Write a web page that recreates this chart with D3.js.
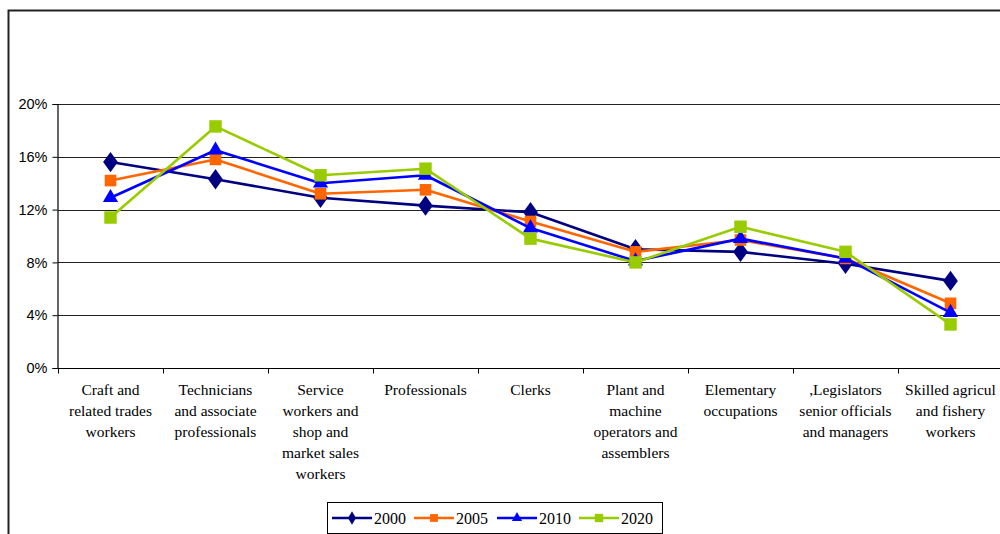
<!DOCTYPE html>
<html>
<head>
<meta charset="utf-8">
<script src="https://cdn.jsdelivr.net/npm/d3@7"></script>
<style>
  html, body { margin: 0; padding: 0; background: #fff; }
  svg { display: block; }
  .serif { font-family: "Liberation Serif", "Times New Roman", serif; }
  .sans { font-family: "Liberation Sans", Arial, Helvetica, sans-serif; }
</style>
</head>
<body>
<svg id="chart" width="1000" height="534"></svg>
<script>
// Occupational groups along the x axis (each entry is a list of label lines)
const categories = [
  ["Craft and", "related trades", "workers"],
  ["Technicians", "and associate", "professionals"],
  ["Service", "workers and", "shop and", "market sales", "workers"],
  ["Professionals"],
  ["Clerks"],
  ["Plant and", "machine", "operators and", "assemblers"],
  ["Elementary", "occupations"],
  [",Legislators", "senior officials", "and managers"],
  ["Skilled agricul", "and fishery", "workers"]
];

// Share of employment (%) per year
const years = ["2000", "2005", "2010", "2020"];
const values2000 = [15.6, 14.3, 12.9, 12.3, 11.8, 9.0, 8.8, 7.9, 6.6];
const values2005 = [14.2, 15.8, 13.2, 13.5, 11.1, 8.8, 9.7, 8.3, 4.9];
const values2010 = [12.9, 16.5, 14.0, 14.6, 10.6, 8.1, 9.8, 8.3, 4.2];
const values2020 = [11.4, 18.3, 14.6, 15.1, 9.8, 8.0, 10.7, 8.8, 3.3];

const yTicks = [0, 4, 8, 12, 16, 20];

const colors = ["#000080", "#FF6600", "#0000FF", "#99CC00"];
const markers = [d3.symbolDiamond, d3.symbolSquare, d3.symbolTriangle, d3.symbolSquare];
const markerSizes = [120, 135, 100, 155];

const series = years.map((y, i) => ({
  name: y,
  values: [values2000, values2005, values2010, values2020][i],
  color: colors[i],
  symbol: markers[i],
  size: markerSizes[i]
}));

const svg = d3.select("#chart");

// Outer chart frame (left and top edges)
svg.append("path")
  .attr("d", "M8.5,534 V10.5 H1000")
  .attr("fill", "none")
  .attr("stroke", "#222")
  .attr("stroke-width", 2);

const plot = { left: 58, right: 1003, top: 104, bottom: 368 };

const x = d3.scaleBand()
  .domain(d3.range(categories.length))
  .range([plot.left, plot.right])
  .paddingInner(0).paddingOuter(0);

const y = d3.scaleLinear()
  .domain([0, 20])
  .range([plot.bottom, plot.top]);

// Horizontal gridlines
svg.append("g")
  .selectAll("line")
  .data(yTicks.filter(t => t > 0))
  .join("line")
  .attr("x1", plot.left)
  .attr("x2", 1000)
  .attr("y1", d => Math.round(y(d)) + 0.5)
  .attr("y2", d => Math.round(y(d)) + 0.5)
  .attr("stroke", "#222")
  .attr("stroke-width", 1);

// Y axis
const yAxis = d3.axisLeft(y)
  .tickValues(yTicks)
  .tickFormat(d => d + "%")
  .tickSize(5)
  .tickPadding(5);

const gy = svg.append("g")
  .attr("transform", `translate(${plot.left - 0.5},0)`)
  .call(yAxis);
gy.attr("font-family", null).attr("font-size", null);
gy.select(".domain").attr("stroke", "#000").attr("stroke-width", 1.2);
gy.selectAll(".tick line").attr("stroke", "#000");
gy.selectAll(".tick text")
  .attr("class", "sans")
  .style("font-size", "14.5px")
  .attr("fill", "#000");

// X axis: baseline with tick marks at category boundaries
const gx = svg.append("g").attr("transform", `translate(0,${plot.bottom + 0.5})`);
gx.append("line")
  .attr("x1", plot.left).attr("x2", 1000)
  .attr("stroke", "#000").attr("stroke-width", 1.2);
gx.selectAll("line.tick")
  .data(d3.range(categories.length + 1))
  .join("line")
  .attr("class", "tick")
  .attr("x1", d => Math.round(plot.left + d * x.step()) + 0.5)
  .attr("x2", d => Math.round(plot.left + d * x.step()) + 0.5)
  .attr("y1", 0).attr("y2", 5)
  .attr("stroke", "#000");

// Category labels
const labels = svg.append("g")
  .attr("class", "serif")
  .style("font-size", "15.5px")
  .attr("fill", "#000")
  .attr("text-anchor", "middle");
categories.forEach((lines, i) => {
  const t = labels.append("text")
    .attr("x", x(i) + x.bandwidth() / 2)
    .attr("y", 395);
  lines.forEach((ln, j) => {
    t.append("tspan")
      .attr("x", x(i) + x.bandwidth() / 2)
      .attr("dy", j === 0 ? 0 : 21)
      .text(ln);
  });
});

// Lines and markers
const line = d3.line()
  .x((d, i) => x(i) + x.bandwidth() / 2)
  .y(d => y(d));

series.forEach(s => {
  const g = svg.append("g");
  g.append("path")
    .datum(s.values)
    .attr("d", line)
    .attr("fill", "none")
    .attr("stroke", s.color)
    .attr("stroke-width", 2.6)
    .attr("stroke-linejoin", "round");
  g.selectAll("path.marker")
    .data(s.values)
    .join("path")
    .attr("class", "marker")
    .attr("transform", (d, i) => `translate(${x(i) + x.bandwidth() / 2},${y(d)})` + (s.symbol === d3.symbolDiamond ? " scale(1.25,1)" : ""))
    .attr("d", d3.symbol(s.symbol, s.size))
    .attr("fill", s.color);
});

// Legend
const legend = svg.append("g");
legend.append("rect")
  .attr("x", 327.5).attr("y", 502.5)
  .attr("width", 335).attr("height", 31)
  .attr("fill", "#fff")
  .attr("stroke", "#000")
  .attr("stroke-width", 1);

const legendX = [332, 414, 497, 579];
series.forEach((s, i) => {
  const lx = legendX[i];
  const cy = 518;
  legend.append("line")
    .attr("x1", lx).attr("x2", lx + 40)
    .attr("y1", cy).attr("y2", cy)
    .attr("stroke", s.color).attr("stroke-width", 2.6);
  legend.append("path")
    .attr("transform", `translate(${lx + 20},${cy})`)
    .attr("d", d3.symbol(s.symbol, s.size * 0.45))
    .attr("fill", s.color);
  legend.append("text")
    .attr("class", "serif")
    .attr("x", lx + 42)
    .attr("y", cy + 5.5)
    .style("font-size", "16px")
    .attr("fill", "#000")
    .text(s.name);
});
</script>
</body>
</html>
